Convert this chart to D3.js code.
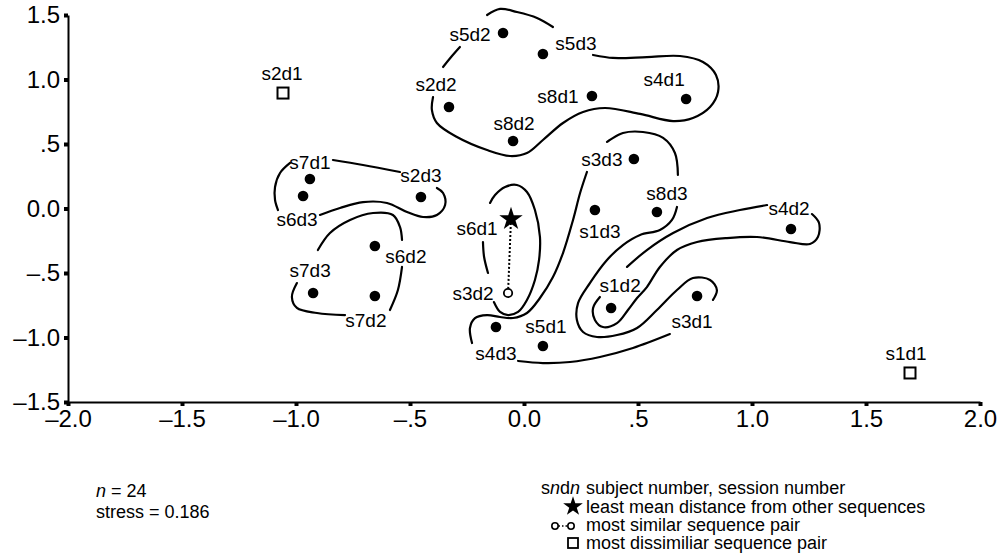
<!DOCTYPE html>
<html>
<head>
<meta charset="utf-8">
<script src="https://cdn.jsdelivr.net/npm/d3@7"></script>
<style>
body{margin:0;background:#fff;}
svg{display:block;font-family:"Liberation Sans",Arial,Helvetica,sans-serif;}
.contour{fill:none;stroke:#000;stroke-width:2.2;stroke-linecap:round;}
.lbl{font-size:19px;}
.leg{font-size:18px;}
</style>
</head>
<body>
<svg id="chart"></svg>
<script>
// MDS solution, 24 sequences (subject / session)
var names = ["s2d1","s5d2","s5d3","s2d2","s8d1","s4d1","s8d2","s7d1","s6d3","s2d3","s3d3","s6d1",
             "s1d3","s8d3","s4d2","s6d2","s7d3","s7d2","s3d2","s1d2","s3d1","s4d3","s5d1","s1d1"];
var dimX = [-1.057,-0.092,0.083,-0.329,0.298,0.711,-0.048,-0.939,-0.969,-0.452,0.482,-0.057,
            0.311,0.583,1.171,-0.654,-0.925,-0.654,-0.070,0.382,0.759,-0.123,0.083,1.693];
var dimY = [0.895,1.360,1.198,0.787,0.872,0.849,0.523,0.229,0.097,0.089,0.384,-0.081,
            -0.012,-0.027,-0.159,-0.291,-0.655,-0.678,-0.655,-0.771,-0.678,-0.919,-1.066,-1.275];
var starName = "s6d1";                    // least mean distance
var similarPair = ["s6d1","s3d2"];        // most similar pair
var dissimilarPair = ["s2d1","s1d1"];     // most dissimilar pair

var xTicks = [-2,-1.5,-1,-0.5,0,0.5,1,1.5,2];
var xTickLabels = ["\u20132.0","\u20131.5","\u20131.0","\u2013.5","0.0",".5","1.0","1.5","2.0"];
var yTicks = [-1.5,-1,-0.5,0,0.5,1,1.5];
var yTickLabels = ["\u20131.5","\u20131.0","\u2013.5","0.0",".5","1.0","1.5"];

// hand drawn contour lines (data units), broken where labels sit
var contourA1 = [[-0.162,1.500],[-0.105,1.547],[-0.031,1.523],[0.057,1.477],[0.127,1.407]];
var contourA2 = [[-0.281,1.252],[-0.316,1.182],[-0.355,1.097]];
var contourA3 = [[-0.399,0.864],[-0.404,0.764],[-0.382,0.663],[-0.294,0.554],[-0.162,0.453],[-0.061,0.407],
                 [0.013,0.430],[0.083,0.531],[0.171,0.663],[0.259,0.748],[0.355,0.779],[0.509,0.733],
                 [0.654,0.678],[0.741,0.702],[0.816,0.787],[0.851,0.903],[0.842,1.035],[0.785,1.136],
                 [0.684,1.182],[0.539,1.174],[0.390,1.167],[0.303,1.190]];
var contourB1 = [[-1.026,0.353],[-1.070,0.275],[-1.092,0.167],[-1.092,0.066],[-1.079,-0.012]];
var contourB2 = [[-0.895,-0.050],[-0.807,0.004],[-0.706,0.050],[-0.601,0.043],[-0.513,-0.027],[-0.443,-0.066],
                 [-0.382,-0.050],[-0.346,0.027],[-0.355,0.120],[-0.382,0.159]];
var contourB3 = [[-0.838,0.376],[-0.706,0.337],[-0.544,0.283]];
var contourC1 = [[-0.904,-0.322],[-0.851,-0.190],[-0.763,-0.089],[-0.662,-0.035],[-0.575,-0.050],
                 [-0.544,-0.143],[-0.535,-0.244]];
var contourC2 = [[-0.535,-0.453],[-0.553,-0.632],[-0.588,-0.787]];
var contourC3 = [[-0.785,-0.826],[-0.908,-0.810],[-0.996,-0.771],[-1.018,-0.686],[-0.996,-0.578]];
var contourD1 = [[-0.149,0.043],[-0.127,0.105],[-0.083,0.167],[-0.031,0.182],[0.013,0.128],[0.048,-0.012],
                 [0.070,-0.221],[0.066,-0.399],[0.048,-0.554],[0.013,-0.709],[-0.026,-0.802],
                 [-0.070,-0.826],[-0.105,-0.802],[-0.132,-0.725]];
var contourD2 = [[-0.180,-0.260],[-0.175,-0.376],[-0.158,-0.500]];
var contourE1 = [[-0.026,-1.182],[0.083,-1.198],[0.202,-1.190],[0.333,-1.151],[0.478,-1.081],[0.640,-0.973]];
var contourE2 = [[0.829,-0.709],[0.846,-0.632],[0.816,-0.554],[0.741,-0.539],[0.671,-0.632],[0.583,-0.787],
                 [0.496,-0.926],[0.408,-0.981],[0.320,-0.996],[0.259,-0.957],[0.232,-0.864],[0.237,-0.733],
                 [0.289,-0.578],[0.364,-0.399],[0.434,-0.283],[0.509,-0.205],[0.596,-0.167],[0.649,-0.089],
                 [0.671,0.012]];
var contourE3 = [[0.675,0.260],[0.662,0.430],[0.610,0.547],[0.522,0.593],[0.434,0.585],[0.364,0.516]];
var contourE4 = [[0.276,0.283],[0.246,0.120],[0.215,-0.089],[0.171,-0.345],[0.127,-0.531],[0.070,-0.694],
                 [0.013,-0.810],[-0.048,-0.849],[-0.105,-0.841],[-0.162,-0.826],[-0.215,-0.849],
                 [-0.237,-0.926],[-0.228,-1.043]];
var contourF1 = [[0.452,-0.453],[0.539,-0.322],[0.654,-0.190],[0.803,-0.074],[0.947,-0.012],[1.066,0.027]];
var contourF2 = [[1.263,-0.043],[1.294,-0.112],[1.289,-0.221],[1.254,-0.275],[1.167,-0.260],[1.022,-0.221],
                 [0.890,-0.229],[0.759,-0.260],[0.671,-0.322],[0.596,-0.453],[0.539,-0.609],[0.496,-0.694],
                 [0.456,-0.787],[0.408,-0.888],[0.346,-0.919],[0.311,-0.864],[0.303,-0.771],[0.333,-0.686]];
var contours = [contourA1,contourA2,contourA3,contourB1,contourB2,contourB3,contourC1,contourC2,contourC3,
                contourD1,contourD2,contourE1,contourE2,contourE3,contourE4,contourF1,contourF2];

// label placement: [dx of text centre, dy of baseline] in px from the mark
var labelOffset = {
    s2d1:[-1,-13], s5d2:[-33,8], s5d3:[33,-4], s2d2:[-13,-16], s8d1:[-34,7], s4d1:[-22,-13],
    s8d2:[1,-11], s7d1:[0,-10], s6d3:[-6,30], s2d3:[0,-15], s3d3:[-32,7], s6d1:[-34,16],
    s1d3:[5,28], s8d3:[10,-12], s4d2:[-2,-14], s6d2:[31,17], s7d3:[-3,-16], s7d2:[-9,31],
    s3d2:[-35,7], s1d2:[9,-16], s3d1:[-5,32], s4d3:[0,33], s5d1:[3,-13], s1d1:[-4,-13]
};

var width = 1001, height = 554;
var svg = d3.select("#chart").attr("width", width).attr("height", height);

var xScale = d3.scaleLinear().domain([-2, 2]).range([68, 980]);
var yScale = d3.scaleLinear().domain([-1.5, 1.5]).range([402, 15]);

// axes
var xAxis = d3.axisBottom(xScale).tickValues(xTicks).tickSizeInner(4).tickSizeOuter(0)
    .tickFormat(function(d, i){ return xTickLabels[i]; });
var yAxis = d3.axisLeft(yScale).tickValues(yTicks).tickSizeInner(4).tickSizeOuter(0)
    .tickFormat(function(d, i){ return yTickLabels[i]; });

var gX = svg.append("g").attr("transform", "translate(0," + yScale(-1.5) + ")").call(xAxis);
var gY = svg.append("g").attr("transform", "translate(" + xScale(-2) + ",0)").call(yAxis);

[gX, gY].forEach(function(g){
    g.select(".domain").attr("stroke", "#000").attr("stroke-width", 2);
    g.selectAll(".tick line").attr("stroke", "#000").attr("stroke-width", 4);
    g.selectAll(".tick text").attr("fill", "#000").style("font-size", "24px")
        .style("font-family", "'Liberation Sans', Arial, sans-serif");
});
gX.selectAll(".tick text").attr("y", 8);
gY.selectAll(".tick text").attr("x", -8);

// contours
var line = d3.line()
    .x(function(d){ return xScale(d[0]); })
    .y(function(d){ return yScale(d[1]); })
    .curve(d3.curveCatmullRom.alpha(0.5));

svg.append("g").selectAll("path").data(contours).enter().append("path")
    .attr("class", "contour").attr("d", line);

// points
var points = names.map(function(n, i){ return {name: n, x: dimX[i], y: dimY[i]}; });
var byName = {};
points.forEach(function(p){ byName[p.name] = p; });

// dotted line between most similar pair
svg.append("line")
    .attr("x1", xScale(byName[similarPair[0]].x)).attr("y1", yScale(byName[similarPair[0]].y))
    .attr("x2", xScale(byName[similarPair[1]].x)).attr("y2", yScale(byName[similarPair[1]].y))
    .attr("stroke", "#000").attr("stroke-width", 2).attr("stroke-dasharray", "2,2");

var gP = svg.append("g").selectAll("g").data(points).enter().append("g")
    .attr("transform", function(d){ return "translate(" + xScale(d.x) + "," + yScale(d.y) + ")"; });

gP.each(function(d){
    var g = d3.select(this);
    if (d.name === starName) {
        g.append("path").attr("d", d3.symbol(d3.symbolStar, 170)()).attr("fill", "#000");
    } else if (d.name === similarPair[1]) {
        g.append("circle").attr("r", 4.2).attr("fill", "#fff").attr("stroke", "#000").attr("stroke-width", 1.8);
    } else if (dissimilarPair.indexOf(d.name) >= 0) {
        g.append("rect").attr("x", -5.5).attr("y", -5.5).attr("width", 11).attr("height", 11)
            .attr("fill", "#fff").attr("stroke", "#000").attr("stroke-width", 2);
    } else {
        g.append("circle").attr("r", 5.3).attr("fill", "#000");
    }
    var off = labelOffset[d.name];
    g.append("text").attr("class", "lbl").attr("x", off[0]).attr("y", off[1])
        .attr("text-anchor", "middle").text(d.name);
});

// notes, bottom left
var note1 = svg.append("text").attr("class", "leg").attr("x", 96).attr("y", 497);
note1.append("tspan").style("font-style", "italic").text("n");
note1.append("tspan").text(" = 24");
svg.append("text").attr("class", "leg").attr("x", 96).attr("y", 518).text("stress = 0.186");

// key, bottom right
var keyX = 586, rows = [494, 512.5, 531, 549];
var k0 = svg.append("text").attr("class", "leg").attr("x", keyX - 6).attr("y", rows[0]).attr("text-anchor", "end");
k0.append("tspan").text("s");
k0.append("tspan").style("font-style", "italic").text("n");
k0.append("tspan").text("d");
k0.append("tspan").style("font-style", "italic").text("n");
svg.append("text").attr("class", "leg").attr("x", keyX).attr("y", rows[0]).text("subject number, session number");

svg.append("path").attr("d", d3.symbol(d3.symbolStar, 120)())
    .attr("transform", "translate(" + (keyX - 13) + "," + (rows[1] - 6) + ")").attr("fill", "#000");
svg.append("text").attr("class", "leg").attr("x", keyX).attr("y", rows[1]).text("least mean distance from other sequences");

svg.append("line").attr("x1", keyX - 31).attr("x2", keyX - 15).attr("y1", rows[2] - 5).attr("y2", rows[2] - 5)
    .attr("stroke", "#000").attr("stroke-width", 1.6).attr("stroke-dasharray", "1.5,2");
[keyX - 31, keyX - 15].forEach(function(cx){
    svg.append("circle").attr("cx", cx).attr("cy", rows[2] - 5).attr("r", 3.2)
        .attr("fill", "#fff").attr("stroke", "#000").attr("stroke-width", 1.6);
});
svg.append("text").attr("class", "leg").attr("x", keyX).attr("y", rows[2]).text("most similar sequence pair");

svg.append("rect").attr("x", keyX - 18).attr("y", rows[3] - 11).attr("width", 10).attr("height", 10)
    .attr("fill", "#fff").attr("stroke", "#000").attr("stroke-width", 1.8);
svg.append("text").attr("class", "leg").attr("x", keyX).attr("y", rows[3]).text("most dissimiliar sequence pair");
</script>
</body>
</html>
